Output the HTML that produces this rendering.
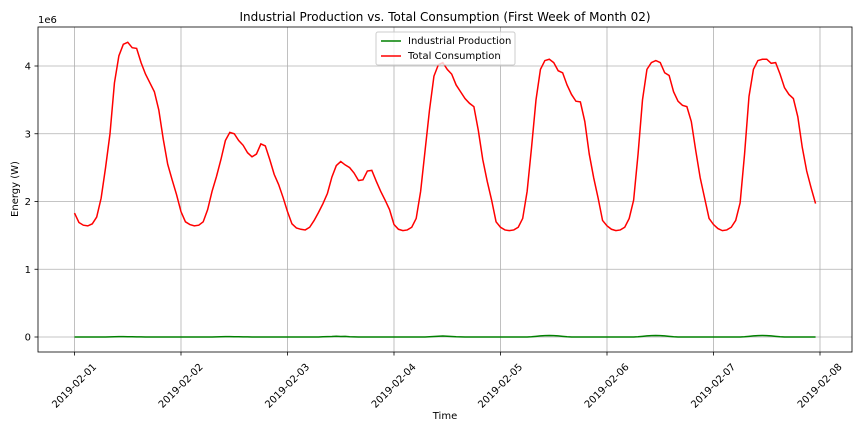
<!DOCTYPE html>
<html><head><meta charset="utf-8"><style>
body{margin:0;background:#fff;}
svg{font-family:"DejaVu Sans","Liberation Sans",sans-serif;}
</style></head><body>
<svg id="chart" width="864" height="432">
<rect x="0" y="0" width="864" height="432" fill="#fff"/>
<text x="445" y="21" font-size="12" text-anchor="middle">Industrial Production vs. Total Consumption (First Week of Month 02)</text>
<text x="38" y="23" font-size="10">1e6</text>
<text transform="translate(18,189) rotate(-90)" font-size="10" text-anchor="middle">Energy (W)</text>
<text x="445" y="419" font-size="10" text-anchor="middle">Time</text>
<g id="grid"></g><g id="lines"></g><g id="ticks"></g>
<rect x="38" y="27" width="814" height="325" fill="none" stroke="#000" stroke-width="0.8"/>
<g>
<rect x="376" y="32" width="139" height="33" fill="#fff" fill-opacity="0.8" stroke="#ccc" rx="2"/>
<line x1="381" y1="41" x2="401" y2="41" stroke="green" stroke-width="1.5"/>
<text x="408" y="44" font-size="10">Industrial Production</text>
<line x1="381" y1="56" x2="401" y2="56" stroke="red" stroke-width="1.5"/>
<text x="408" y="59" font-size="10">Total Consumption</text>
</g>
</svg>
<script>
const dayLabels=["2019-02-01","2019-02-02","2019-02-03","2019-02-04","2019-02-05","2019-02-06","2019-02-07","2019-02-08"];
const yTicks=[0,1,2,3,4];
const consumption=[
1.83,1.69,1.65,1.64,1.67,1.77,2.05,2.5,3.0,3.75,4.15,4.32,4.35,4.27,4.26,4.05,3.88,3.75,3.62,3.35,2.92,2.55,2.32,2.1,
1.85,1.70,1.66,1.64,1.65,1.70,1.88,2.15,2.37,2.62,2.90,3.02,3.00,2.90,2.83,2.72,2.66,2.70,2.85,2.82,2.62,2.40,2.25,2.06,
1.85,1.67,1.61,1.59,1.58,1.62,1.72,1.84,1.97,2.12,2.36,2.53,2.59,2.54,2.50,2.42,2.31,2.32,2.45,2.46,2.30,2.15,2.02,1.88,
1.66,1.59,1.57,1.58,1.62,1.75,2.15,2.75,3.35,3.85,4.02,4.05,3.95,3.88,3.72,3.62,3.52,3.45,3.40,3.05,2.62,2.30,2.02,1.70,
1.62,1.58,1.57,1.58,1.62,1.75,2.15,2.80,3.50,3.95,4.08,4.10,4.05,3.93,3.90,3.72,3.58,3.48,3.47,3.18,2.70,2.35,2.05,1.72,
1.64,1.59,1.57,1.58,1.62,1.75,2.02,2.70,3.50,3.95,4.05,4.08,4.05,3.90,3.86,3.62,3.48,3.42,3.40,3.18,2.75,2.35,2.05,1.75,
1.66,1.60,1.57,1.58,1.62,1.72,1.98,2.70,3.55,3.95,4.08,4.10,4.10,4.04,4.05,3.88,3.68,3.58,3.52,3.25,2.80,2.45,2.20,1.97];
const industrial=[
0,0,0,0,0,0,0,0,0.002,0.004,0.005,0.005,0.004,0.003,0.002,0.001,0,0,0,0,0,0,0,0,
0,0,0,0,0,0,0,0,0.002,0.004,0.005,0.005,0.004,0.003,0.002,0.001,0,0,0,0,0,0,0,0,
0,0,0,0,0,0,0,0,0.003,0.006,0.008,0.012,0.008,0.01,0.004,0.002,0,0,0,0,0,0,0,0,
0,0,0,0,0,0,0,0,0.004,0.008,0.012,0.015,0.012,0.008,0.004,0.002,0,0,0,0,0,0,0,0,
0,0,0,0,0,0,0,0.004,0.01,0.016,0.02,0.022,0.02,0.016,0.01,0.004,0,0,0,0,0,0,0,0,
0,0,0,0,0,0,0,0.004,0.01,0.016,0.02,0.022,0.02,0.016,0.01,0.004,0,0,0,0,0,0,0,0,
0,0,0,0,0,0,0,0.004,0.01,0.016,0.02,0.022,0.02,0.016,0.01,0.004,0,0,0,0,0,0,0,0];
const NS="http://www.w3.org/2000/svg";
const X0=74.5,DAY=106.5,Y0=337,UNIT=67.75;
const xs=h=>X0+h*DAY/24;
const ys=v=>Y0-v*UNIT;
function mk(tag,attrs,parent){const e=document.createElementNS(NS,tag);for(const k in attrs)e.setAttribute(k,attrs[k]);parent.appendChild(e);return e;}
const grid=document.getElementById('grid'),ticks=document.getElementById('ticks'),lines=document.getElementById('lines');
dayLabels.forEach((lab,i)=>{
 const x=xs(i*24);
 const g=mk('line',{x1:x,x2:x,y1:27,y2:352,stroke:'#b0b0b0','stroke-width':0.8},grid);
 
 
 mk('line',{x1:x,x2:x,y1:352,y2:355.5,stroke:'#000','stroke-width':0.8},ticks);
 const t=mk('text',{transform:`translate(${x+2},${388}) rotate(-45)`,'font-size':10,'text-anchor':'middle'},ticks);
 t.textContent=lab;
 
 
});
yTicks.forEach(v=>{
 const y=ys(v);
 const g=mk('line',{x1:38,x2:852,y1:y,y2:y,stroke:'#b0b0b0','stroke-width':0.8},grid);
 
 
 mk('line',{x1:34.5,x2:38,y1:y,y2:y,stroke:'#000','stroke-width':0.8},ticks);
 const t=mk('text',{x:31,y:y+3.5,'font-size':10,'text-anchor':'end'},ticks);
 t.textContent=String(v);
 
 
});
function path(arr,color,name){
 const d=arr.map((v,i)=>(i?'L':'M')+xs(i).toFixed(2)+','+ys(v).toFixed(2)).join('');
 const p=mk('path',{d:d,fill:'none',stroke:color,'stroke-width':1.5},lines);
 
 
}
path(industrial,'green','industrial-production-line');
path(consumption,'red','total-consumption-line');
</script>
</body></html>
